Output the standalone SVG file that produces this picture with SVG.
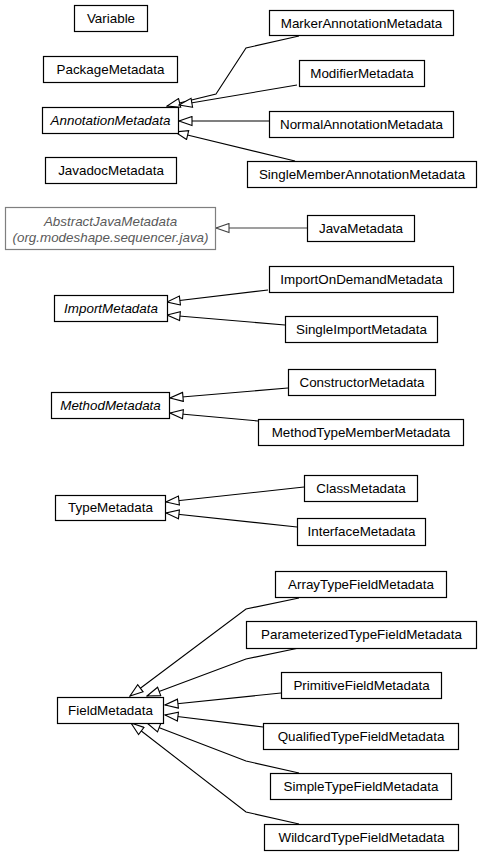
<svg xmlns="http://www.w3.org/2000/svg" width="483" height="856" viewBox="0 0 483 856">
<style>
.n rect{fill:#fff;stroke:#000;stroke-width:1.2}
.n text{font-family:"Liberation Sans",Arial,sans-serif;font-size:13.4px;text-anchor:middle;fill:#000}
.n text.i{font-style:italic}
.ext rect{stroke:#7f7f7f}
.ext text{fill:#5a5a5a;font-style:italic}
.c path{fill:none;stroke:#000;stroke-width:1.1;marker-end:url(#tri)}
.c path.g{stroke:#404040;marker-end:url(#trig)}
</style>
<defs>
<marker id="tri" markerUnits="userSpaceOnUse" viewBox="0 0 15 11" markerWidth="15" markerHeight="11" refX="14" refY="5.5" orient="auto">
<path d="M1,1 L14,5.5 L1,10 Z" fill="#fff" stroke="#000" stroke-width="1.1"/>
</marker>
<marker id="trig" markerUnits="userSpaceOnUse" viewBox="0 0 15 11" markerWidth="15" markerHeight="11" refX="14" refY="5.5" orient="auto">
<path d="M1,1 L14,5.5 L1,10 Z" fill="#fff" stroke="#404040" stroke-width="1.1"/>
</marker>
</defs>
<g id="connectors" class="c">
<path d="M299,36 L246,48 L216,94 L167,106"/>
<path d="M297,85 L179,105"/>
<path d="M269,121 L179,121"/>
<path d="M295,161 L175,132"/>
<path class="g" d="M307,228 L216,228"/>
<path d="M268,290 L167,302"/>
<path d="M285,325 L167,315"/>
<path d="M288,388 L170,398"/>
<path d="M258,421 L170,413"/>
<path d="M304,487 L166,502"/>
<path d="M297,527 L166,513"/>
<path d="M299,598 L246,609 L130,696"/>
<path d="M299,648 L246,659 L147,696"/>
<path d="M281,693 L165,705"/>
<path d="M263,727 L165,715"/>
<path d="M299,773 L246,761 L147,723"/>
<path d="M299,824 L246,812 L131,723"/>
</g>
<g id="Variable" class="n"><rect x="74.5" y="5.5" width="73" height="26"/><text x="111" y="22.5">Variable</text></g>
<g id="PackageMetadata" class="n"><rect x="43.5" y="56.5" width="134" height="26"/><text x="110.5" y="73.5">PackageMetadata</text></g>
<g id="AnnotationMetadata" class="n"><rect x="42.5" y="107.5" width="136" height="26"/><text class="i" x="110.5" y="124.5">AnnotationMetadata</text></g>
<g id="JavadocMetadata" class="n"><rect x="45.5" y="157.5" width="131" height="26"/><text x="111" y="174.5">JavadocMetadata</text></g>
<g id="MarkerAnnotationMetadata" class="n"><rect x="269.5" y="10.5" width="184" height="25"/><text x="361.5" y="27.5">MarkerAnnotationMetadata</text></g>
<g id="ModifierMetadata" class="n"><rect x="299.5" y="60.5" width="125" height="26"/><text x="362" y="77.5">ModifierMetadata</text></g>
<g id="NormalAnnotationMetadata" class="n"><rect x="269.5" y="111.5" width="184" height="26"/><text x="361.5" y="128.5">NormalAnnotationMetadata</text></g>
<g id="SingleMemberAnnotationMetadata" class="n"><rect x="247.5" y="161.5" width="229" height="26"/><text x="362" y="178.5">SingleMemberAnnotationMetadata</text></g>
<g id="AbstractJavaMetadata" class="n ext"><rect x="5.5" y="207.5" width="210" height="42"/><text x="110.5" y="225.5">AbstractJavaMetadata</text><text x="110.5" y="241.5">(org.modeshape.sequencer.java)</text></g>
<g id="JavaMetadata" class="n"><rect x="307.5" y="215.5" width="107" height="26"/><text x="361" y="232.5">JavaMetadata</text></g>
<g id="ImportOnDemandMetadata" class="n"><rect x="269.5" y="266.5" width="184" height="26"/><text x="361.5" y="283.5">ImportOnDemandMetadata</text></g>
<g id="ImportMetadata" class="n"><rect x="54.5" y="295.5" width="113" height="26"/><text class="i" x="111" y="312.5">ImportMetadata</text></g>
<g id="SingleImportMetadata" class="n"><rect x="285.5" y="316.5" width="152" height="26"/><text x="361.5" y="333.5">SingleImportMetadata</text></g>
<g id="ConstructorMetadata" class="n"><rect x="288.5" y="369.5" width="147" height="26"/><text x="362" y="386.5">ConstructorMetadata</text></g>
<g id="MethodMetadata" class="n"><rect x="51.5" y="392.5" width="118" height="26"/><text class="i" x="110.5" y="409.5">MethodMetadata</text></g>
<g id="MethodTypeMemberMetadata" class="n"><rect x="258.5" y="419.5" width="205" height="26"/><text x="361" y="436.5">MethodTypeMemberMetadata</text></g>
<g id="ClassMetadata" class="n"><rect x="304.5" y="475.5" width="113" height="26"/><text x="361" y="492.5">ClassMetadata</text></g>
<g id="TypeMetadata" class="n"><rect x="55.5" y="495.5" width="110" height="25"/><text x="110.5" y="512">TypeMetadata</text></g>
<g id="InterfaceMetadata" class="n"><rect x="297.5" y="518.5" width="128" height="27"/><text x="361.5" y="536">InterfaceMetadata</text></g>
<g id="ArrayTypeFieldMetadata" class="n"><rect x="275.5" y="571.5" width="171" height="26"/><text x="361" y="588.5">ArrayTypeFieldMetadata</text></g>
<g id="ParameterizedTypeFieldMetadata" class="n"><rect x="246.5" y="621.5" width="230" height="27"/><text x="361.5" y="639">ParameterizedTypeFieldMetadata</text></g>
<g id="PrimitiveFieldMetadata" class="n"><rect x="281.5" y="672.5" width="160" height="26"/><text x="361.5" y="689.5">PrimitiveFieldMetadata</text></g>
<g id="FieldMetadata" class="n"><rect x="57.5" y="697.5" width="106" height="26"/><text x="110.5" y="714.5">FieldMetadata</text></g>
<g id="QualifiedTypeFieldMetadata" class="n"><rect x="263.5" y="723.5" width="195" height="26"/><text x="361" y="740.5">QualifiedTypeFieldMetadata</text></g>
<g id="SimpleTypeFieldMetadata" class="n"><rect x="270.5" y="773.5" width="181" height="26"/><text x="361" y="790.5">SimpleTypeFieldMetadata</text></g>
<g id="WildcardTypeFieldMetadata" class="n"><rect x="264.5" y="824.5" width="194" height="26"/><text x="361.5" y="841.5">WildcardTypeFieldMetadata</text></g>
</svg>
